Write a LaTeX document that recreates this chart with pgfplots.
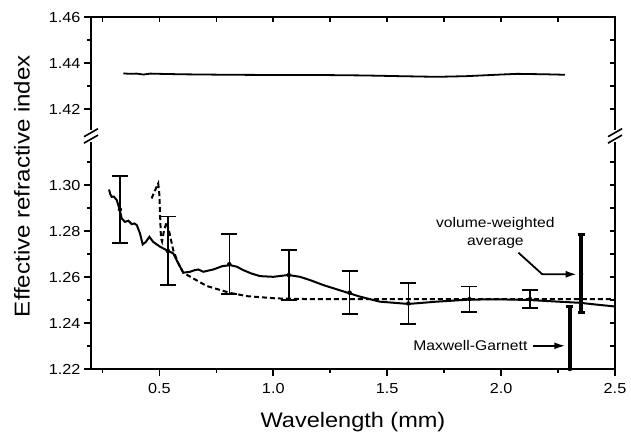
\documentclass[border=0pt]{standalone}
\usepackage{fontspec}
\setmainfont{Liberation Sans}[FakeStretch=1.12]
\usepackage{pgfplots}
\pgfplotsset{compat=1.18}
\usetikzlibrary{arrows.meta}

% upper part of the broken y axis is plotted at y-0.087
\begin{document}
\begin{tikzpicture}
\begin{axis}[
    width=524pt, height=351.7pt, scale only axis,
    xmin=0.2, xmax=2.5, ymin=1.22, ymax=1.373,
    clip=false,
    xtick={0.5,1,1.5,2,2.5},
    xticklabels={0.5,1.0,1.5,2.0,2.5},
    minor xtick={0.25,0.75,1.25,1.75,2.25},
    ytick={1.22,1.24,1.26,1.28,1.30,1.333,1.353,1.373},
    yticklabels={1.22,1.24,1.26,1.28,1.30,1.42,1.44,1.46},
    minor ytick={1.23,1.25,1.27,1.29,1.31,1.343,1.363},
    xtick pos=bottom, ytick pos=left, tick align=outside,
    major tick length=7pt, minor tick length=4pt,
    tick style={black, line width=1.6pt},
    axis line style={line width=2.4pt},
    ticklabel style={font=\fontsize{14.5}{16}\selectfont},
    xticklabel style={yshift=-4pt},
    /pgf/number format/assume math mode=true,
    xlabel={Wavelength (mm)},
    ylabel={Effective refractive index},
    every axis x label/.style={at={(rel axis cs:0.5,-0.152)}, anchor=center,
      font=\fontsize{21}{24}\selectfont},
    every axis y label/.style={at={(rel axis cs:-0.1317,0.52)}, anchor=center, rotate=90,
      font=\fontsize{21.5}{24}\selectfont},
  ]
  \coordinate (bl) at (rel axis cs:0,0);
  \coordinate (tr) at (rel axis cs:1,1);

  % upper curve (n - 0.087)
  \addplot[black, line width=1.8pt] coordinates {
    (0.342,1.3486)(0.37,1.3484)(0.40,1.3485)(0.43,1.3481)(0.46,1.3485)(0.50,1.3484)
    (0.60,1.3482)(0.80,1.3480)(1.0,1.3479)(1.2,1.3479)(1.4,1.3477)(1.55,1.3474)
    (1.72,1.3471)(1.85,1.3474)(2.0,1.3481)(2.07,1.3484)(2.2,1.3482)(2.28,1.3480)};

  % measured
  \addplot[black, line width=2pt] coordinates {
    (0.279,1.2981)(0.285,1.2960)(0.291,1.2949)(0.300,1.2950)(0.313,1.2935)(0.324,1.2899)
    (0.335,1.2855)(0.349,1.2840)(0.364,1.2845)(0.379,1.2830)(0.390,1.2833)(0.401,1.2826)
    (0.415,1.2790)(0.427,1.2742)(0.441,1.2753)(0.456,1.2775)(0.473,1.2753)(0.503,1.2732)
    (0.532,1.2717)(0.561,1.2703)(0.583,1.2660)(0.605,1.2619)(0.635,1.2623)(0.655,1.2630)
    (0.671,1.2633)(0.693,1.2623)(0.737,1.2633)(0.775,1.2647)(0.810,1.2652)(0.840,1.2645)
    (0.869,1.2630)(0.905,1.2615)(0.942,1.2604)(1.000,1.2601)(1.066,1.2609)(1.117,1.2601)
    (1.161,1.2587)(1.22,1.2565)(1.30,1.2540)(1.38,1.2515)(1.468,1.2493)(1.593,1.2483)
    (1.718,1.2493)(1.861,1.2502)(2.0,1.2503)(2.127,1.2500)(2.25,1.2493)(2.346,1.2488)
    (2.42,1.2480)(2.5,1.2472)};

  % model
  \addplot[black, line width=2pt, dash pattern=on 5pt off 3pt] coordinates {
    (0.466,1.2942)(0.480,1.2975)(0.495,1.3007)(0.500,1.2960)(0.503,1.2880)(0.507,1.2770)
    (0.512,1.2755)(0.520,1.2800)(0.532,1.2840)(0.545,1.2790)(0.561,1.2717)(0.583,1.2660)
    (0.605,1.2619)(0.649,1.2594)(0.708,1.2561)(0.807,1.2532)(0.883,1.2517)(1.015,1.2507)
    (1.161,1.2504)(1.5,1.2504)(2.0,1.2504)(2.5,1.2504)};

  % error bars
  \addplot[only marks, mark=none,
    error bars/.cd, y dir=both, y explicit,
    error bar style={black, solid, line width=1.5pt},
    error mark options={black, rotate=90, line width=1.8pt, mark size=8pt}] coordinates {
    (0.327,1.2894) +- (0,0.0147)
    (0.537,1.2714) +- (0,0.0149)
    (0.807,1.2656) +- (0,0.0131)
    (1.068,1.2609) +- (0,0.0109)
    (1.335,1.2532) +- (0,0.0093)
    (1.593,1.2485) +- (0,0.0089)
    (1.861,1.2504) +- (0,0.0055)
    (2.127,1.2504) +- (0,0.0040)};

  % volume-weighted average
  \addplot[only marks, mark=none,
    error bars/.cd, y dir=both, y explicit,
    error bar style={black, solid, line width=4pt},
    error mark options={black, rotate=90, line width=3pt, mark size=3.5pt}] coordinates {
    (2.351,1.2614) +- (0,0.0169)};

  % Maxwell-Garnett
  \addplot[only marks, mark=none,
    error bars/.cd, y dir=plus, y explicit,
    error bar style={black, solid, line width=4pt},
    error mark options={black, rotate=90, line width=3pt, mark size=3.5pt}] coordinates {
    (2.302,1.22) +- (0,0.0271)};

  \node[align=center, font=\fontsize{14}{18}\selectfont] at (axis cs:1.975,1.2791)
    {volume-weighted\\average};
  \draw[line width=1.8pt, -{Latex[length=11pt,width=7pt]}]
    (axis cs:2.076,1.2706) -- (axis cs:2.181,1.2612) -- (axis cs:2.332,1.2612);
  \node[font=\fontsize{14}{18}\selectfont] at (axis cs:1.865,1.2301) {Maxwell-Garnett};
  \draw[line width=1.8pt, -{Latex[length=11pt,width=7pt]}]
    (axis cs:2.142,1.2301) -- (axis cs:2.282,1.2301);
\end{axis}

\begin{axis}[
    width=524pt, height=351.7pt, scale only axis,
    xmin=0.2, xmax=2.5, ymin=1.22, ymax=1.373,
    clip=false,
    xtick={0.5,1,1.5,2,2.5},
    minor xtick={0.25,0.75,1.25,1.75,2.25},
    ytick={1.22,1.24,1.26,1.28,1.30,1.333,1.353,1.373},
    minor ytick={1.23,1.25,1.27,1.29,1.31,1.343,1.363},
    xticklabels={}, yticklabels={},
    xtick pos=top, ytick pos=right, tick align=inside,
    major tick length=5pt, minor tick length=5pt,
    tick style={black, line width=1.6pt},
    axis line style={line width=2.4pt},
  ]
  % axis breaks, left
  \fill[white] ([xshift=-3pt]axis cs:0.2,1.3187) rectangle ([xshift=3pt]axis cs:0.2,1.3239);
  \draw[black, line width=1.6pt] ([xshift=-7pt,yshift=-4pt]axis cs:0.2,1.3228) -- ([xshift=7pt,yshift=4pt]axis cs:0.2,1.3228);
  \draw[black, line width=1.6pt] ([xshift=-7pt,yshift=-4pt]axis cs:0.2,1.3200) -- ([xshift=7pt,yshift=4pt]axis cs:0.2,1.3200);
  % axis breaks, right
  \fill[white] ([xshift=-3pt]axis cs:2.5,1.3187) rectangle ([xshift=3pt]axis cs:2.5,1.3239);
  \draw[black, line width=1.6pt] ([xshift=-7pt,yshift=-4pt]axis cs:2.5,1.3228) -- ([xshift=7pt,yshift=4pt]axis cs:2.5,1.3228);
  \draw[black, line width=1.6pt] ([xshift=-7pt,yshift=-4pt]axis cs:2.5,1.3200) -- ([xshift=7pt,yshift=4pt]axis cs:2.5,1.3200);
\end{axis}
\pgfresetboundingbox
\path[use as bounding box] ([xshift=-91pt,yshift=-67pt]bl) rectangle ([xshift=16pt,yshift=17.3pt]tr);
\end{tikzpicture}
\end{document}
